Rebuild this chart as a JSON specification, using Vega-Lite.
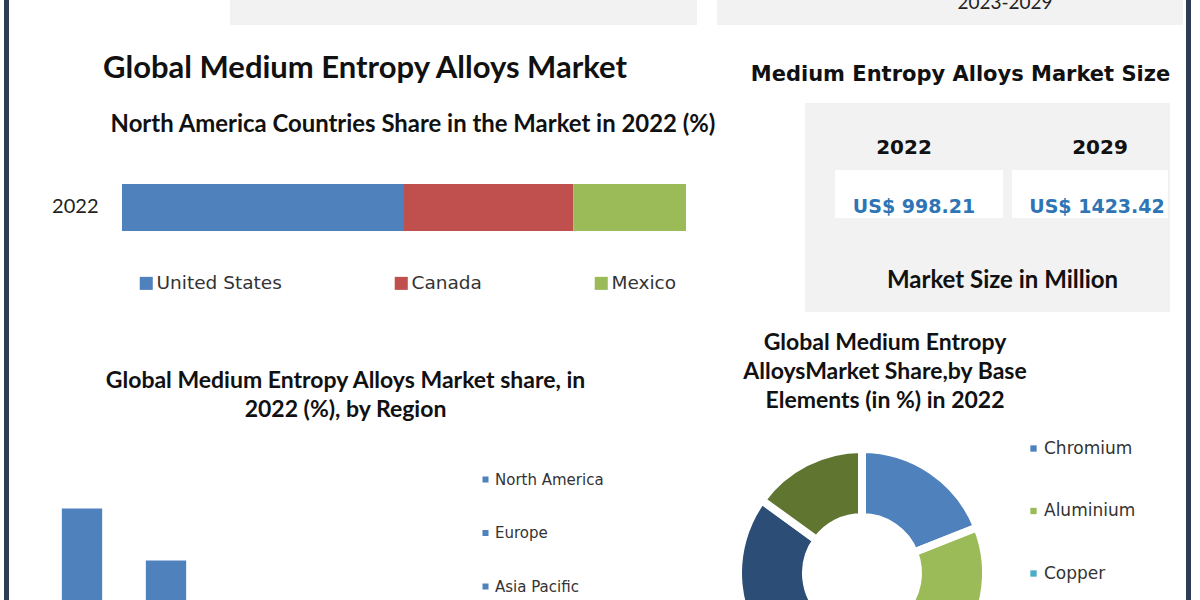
{
  "$schema": "https://vega.github.io/schema/vega-lite/v6.json",
  "usermeta": {"embedOptions": {"actions": false}},
  "background": "white",
  "padding": {"left": 4, "top": 0, "right": 0, "bottom": 0},
  "config": {"view": {"stroke": null}, "font": "Lato"},
  "spacing": 0,
  "resolve": {"scale": {"color": "independent"}, "legend": {"color": "independent"}},
  "hconcat": [
    {"width": 5, "height": 740, "view": {"fill": "#2c3d54", "stroke": null}, "data": {"values": []}, "mark": "point"},
    {"spacing": 0, "resolve": {"scale": {"color": "independent"}, "legend": {"color": "independent"}}, "vconcat": [
      {"spacing": 0, "hconcat": [
        {"width": 221, "height": 25, "data": {"values": []}, "mark": "point"},
        {"width": 467, "height": 25, "view": {"fill": "#f2f2f2", "stroke": null}, "data": {"values": []}, "mark": "point"},
        {"width": 20, "height": 25, "data": {"values": []}, "mark": "point"},
        {"width": 188, "height": 25, "view": {"fill": "#f2f2f2", "stroke": null}, "data": {"values": []}, "mark": "point"},
        {"width": 200, "height": 25, "view": {"fill": "#f2f2f2", "stroke": null}, "data": {"values": [{"t": "2023-2029"}]}, "mark": {"type": "text", "font": "Lato", "fontSize": 19, "color": "#222222", "baseline": "alphabetic", "dy": -4, "clip": true}, "encoding": {"text": {"field": "t"}}},
        {"width": 78, "height": 25, "view": {"fill": "#f2f2f2", "stroke": null}, "data": {"values": []}, "mark": "point"}
      ]},
      {"spacing": 0, "resolve": {"scale": {"color": "independent"}, "legend": {"color": "independent"}}, "hconcat": [
        {"spacing": 0, "resolve": {"scale": {"color": "independent"}, "legend": {"color": "independent"}}, "vconcat": [
          {"width": 712, "height": 88, "data": {"values": [{"t": "Global Medium Entropy Alloys Market"}]}, "mark": {"type": "text", "font": "Lato", "fontWeight": "bold", "fontSize": 31, "color": "#111111"}, "encoding": {"text": {"field": "t"}}},
          {"spacing": 0, "hconcat": [
            {"width": 101, "height": 24, "data": {"values": []}, "mark": "point"},
            {"width": 606, "height": 24, "data": {"values": [{"t": "North America Countries Share in the Market in 2022 (%)"}]}, "mark": {"type": "text", "font": "Lato", "fontWeight": "bold", "fontSize": 23.9, "color": "#111111"}, "encoding": {"text": {"field": "t"}}}
          ]},
          {"width": 10, "height": 47, "data": {"values": []}, "mark": "point"},
          {"spacing": 0, "hconcat": [
            {"width": 42, "height": 130, "data": {"values": []}, "mark": "point"},
            {"width": 564, "height": 130,
              "data": {"values": [
                {"year": "2022", "country": "United States", "share": 50, "idx": 1},
                {"year": "2022", "country": "Canada", "share": 30, "idx": 2},
                {"year": "2022", "country": "Mexico", "share": 20, "idx": 3}
              ]},
              "mark": {"type": "bar"},
              "encoding": {
                "y": {"field": "year", "type": "nominal", "scale": {"paddingInner": 0, "paddingOuter": 0.883, "align": 0}, "axis": {"title": null, "domain": false, "ticks": false, "labelPadding": 24, "labelFont": "Lato", "labelFontSize": 20, "labelColor": "#222222"}},
                "x": {"field": "share", "type": "quantitative", "stack": "zero", "scale": {"domain": [0, 100], "nice": false}, "axis": null},
                "color": {"field": "country", "type": "nominal", "sort": null, "scale": {"domain": ["United States", "Canada", "Mexico"], "range": ["#4f81bd", "#c0504d", "#9bbb59"]},
                  "legend": {"orient": "none", "legendX": 128, "legendY": 90, "direction": "horizontal", "columns": 3, "title": null, "symbolType": "square", "symbolSize": 170, "symbolStrokeWidth": 0, "labelFont": "DejaVu Sans", "labelFontSize": 18.5, "labelColor": "#333333", "labelOffset": 1, "columnPadding": 110, "padding": 0}},
                "order": {"field": "idx", "type": "quantitative"}
              }
            }
          ]},
          {"width": 10, "height": 47, "data": {"values": []}, "mark": "point"},
          {"width": 673, "height": 69, "data": {"values": [{"t": "Global Medium Entropy Alloys Market share, in\n2022 (%), by Region"}]}, "mark": {"type": "text", "font": "Lato", "fontWeight": "bold", "fontSize": 23, "lineHeight": 29, "lineBreak": "\n", "dy": -14.5, "color": "#111111"}, "encoding": {"text": {"field": "t"}}},
          {"width": 10, "height": 42, "data": {"values": []}, "mark": "point"},
          {"spacing": 0, "hconcat": [
            {"width": 31, "height": 234, "data": {"values": []}, "mark": "point"},
            {"width": 420, "height": 234,
              "data": {"values": [
                {"region": "North America", "share": 38},
                {"region": "Europe", "share": 28},
                {"region": "Asia Pacific", "share": 19},
                {"region": "Middle East and Africa", "share": 9},
                {"region": "South America", "share": 6}
              ]},
              "mark": {"type": "bar"},
              "encoding": {
                "x": {"field": "region", "type": "nominal", "sort": null, "scale": {"paddingInner": 0.52, "paddingOuter": 0.26}, "axis": null},
                "y": {"field": "share", "type": "quantitative", "scale": {"domain": [0, 45], "nice": false}, "axis": null},
                "color": {"field": "region", "type": "nominal", "sort": null,
                  "scale": {"domain": ["North America", "Europe", "Asia Pacific", "Middle East and Africa", "South America"], "range": ["#4f81bd", "#4f81bd", "#4f81bd", "#4f81bd", "#4f81bd"]},
                  "legend": {"orient": "right", "offset": 18, "padding": 0, "title": null, "symbolType": "square", "symbolSize": 36, "symbolStrokeWidth": 0, "labelFont": "DejaVu Sans", "labelFontSize": 15, "labelColor": "#333333", "labelOffset": 2, "rowPadding": 37.5}}
              }
            }
          ]}
        ]},
        {"spacing": 0, "resolve": {"scale": {"color": "independent"}, "legend": {"color": "independent"}}, "vconcat": [
          {"width": 10, "height": 22, "data": {"values": []}, "mark": "point"},
          {"spacing": 0, "hconcat": [
            {"width": 14, "height": 56, "data": {"values": []}, "mark": "point"},
            {"width": 451, "height": 56, "data": {"values": [{"t": "Medium Entropy Alloys Market Size"}]}, "mark": {"type": "text", "font": "DejaVu Sans", "fontWeight": "bold", "fontSize": 21, "color": "#111111"}, "encoding": {"text": {"field": "t"}}}
          ]},
          {"spacing": 0, "hconcat": [
            {"width": 84, "height": 22, "data": {"values": []}, "mark": "point"},
            {"width": 365, "height": 22, "view": {"fill": "#f2f2f2", "stroke": null}, "data": {"values": []}, "mark": "point"}
          ]},
          {"spacing": 0, "hconcat": [
            {"width": 84, "height": 45, "data": {"values": []}, "mark": "point"},
            {"width": 198, "height": 45, "view": {"fill": "#f2f2f2", "stroke": null}, "data": {"values": [{"t": "2022"}]}, "mark": {"type": "text", "font": "DejaVu Sans", "fontWeight": "bold", "fontSize": 20, "color": "#111111"}, "encoding": {"text": {"field": "t"}}},
            {"width": 27, "height": 45, "view": {"fill": "#f2f2f2", "stroke": null}, "data": {"values": []}, "mark": "point"},
            {"width": 140, "height": 45, "view": {"fill": "#f2f2f2", "stroke": null}, "data": {"values": [{"t": "2029"}]}, "mark": {"type": "text", "font": "DejaVu Sans", "fontWeight": "bold", "fontSize": 20, "color": "#111111"}, "encoding": {"text": {"field": "t"}}}
          ]},
          {"spacing": 0, "hconcat": [
            {"width": 84, "height": 48, "data": {"values": []}, "mark": "point"},
            {"width": 30, "height": 48, "view": {"fill": "#f2f2f2", "stroke": null}, "data": {"values": []}, "mark": "point"},
            {"width": 168, "height": 48, "view": {"fill": "#ffffff", "stroke": null}, "data": {"values": [{"t": "US$ 998.21"}]}, "mark": {"type": "text", "font": "DejaVu Sans", "fontWeight": "bold", "fontSize": 19, "color": "#2e75b6", "dx": -5, "dy": 13}, "encoding": {"text": {"field": "t"}}},
            {"width": 9, "height": 48, "view": {"fill": "#f2f2f2", "stroke": null}, "data": {"values": []}, "mark": "point"},
            {"width": 156, "height": 48, "view": {"fill": "#ffffff", "stroke": null}, "data": {"values": [{"t": "US$ 1423.42"}]}, "mark": {"type": "text", "font": "DejaVu Sans", "fontWeight": "bold", "fontSize": 19, "color": "#2e75b6", "dx": 7, "dy": 13}, "encoding": {"text": {"field": "t"}}},
            {"width": 2, "height": 48, "view": {"fill": "#f2f2f2", "stroke": null}, "data": {"values": []}, "mark": "point"}
          ]},
          {"spacing": 0, "hconcat": [
            {"width": 84, "height": 31, "data": {"values": []}, "mark": "point"},
            {"width": 365, "height": 31, "view": {"fill": "#f2f2f2", "stroke": null}, "data": {"values": []}, "mark": "point"}
          ]},
          {"spacing": 0, "hconcat": [
            {"width": 84, "height": 63, "data": {"values": []}, "mark": "point"},
            {"width": 30, "height": 63, "view": {"fill": "#f2f2f2", "stroke": null}, "data": {"values": []}, "mark": "point"},
            {"width": 335, "height": 63, "view": {"fill": "#f2f2f2", "stroke": null}, "data": {"values": [{"t": "Market Size in Million"}]}, "mark": {"type": "text", "font": "Lato", "fontWeight": "bold", "fontSize": 24, "color": "#111111"}, "encoding": {"text": {"field": "t"}}}
          ]},
          {"width": 328, "height": 120, "data": {"values": [{"t": "Global Medium Entropy\nAlloysMarket Share,by Base\nElements  (in %) in 2022"}]}, "mark": {"type": "text", "font": "Lato", "fontWeight": "bold", "fontSize": 23, "lineHeight": 29, "lineBreak": "\n", "dy": -29, "color": "#111111"}, "encoding": {"text": {"field": "t"}}},
          {"width": 282, "height": 282,
            "data": {"values": [
              {"element": "Chromium", "share": 19, "idx": 1},
              {"element": "Aluminium", "share": 18, "idx": 2},
              {"element": "Copper", "share": 25, "idx": 3},
              {"element": "Nickel", "share": 23, "idx": 4},
              {"element": "Cobalt", "share": 15, "idx": 5}
            ]},
            "mark": {"type": "arc", "radius": 124, "radius2": 56, "stroke": "white", "strokeWidth": 8},
            "encoding": {
              "theta": {"field": "share", "type": "quantitative", "stack": true},
              "order": {"field": "idx", "type": "quantitative"},
              "color": {"field": "element", "type": "nominal", "sort": null,
                "scale": {"domain": ["Chromium", "Aluminium", "Copper", "Nickel", "Cobalt"], "range": ["#4f81bd", "#9bbb59", "#4bacc6", "#2c4d75", "#5f7530"]},
                "legend": {"orient": "right", "offset": 14, "padding": 8, "title": null, "symbolType": "square", "symbolSize": 40, "symbolStrokeWidth": 0, "labelFont": "DejaVu Sans", "labelFontSize": 17, "labelColor": "#333333", "labelOffset": 2, "rowPadding": 44.5}}
            }
          }
        ]}
      ]}
    ]},
    {"width": 5, "height": 740, "view": {"fill": "#2c3d54", "stroke": null}, "data": {"values": []}, "mark": "point"}
  ]
}
